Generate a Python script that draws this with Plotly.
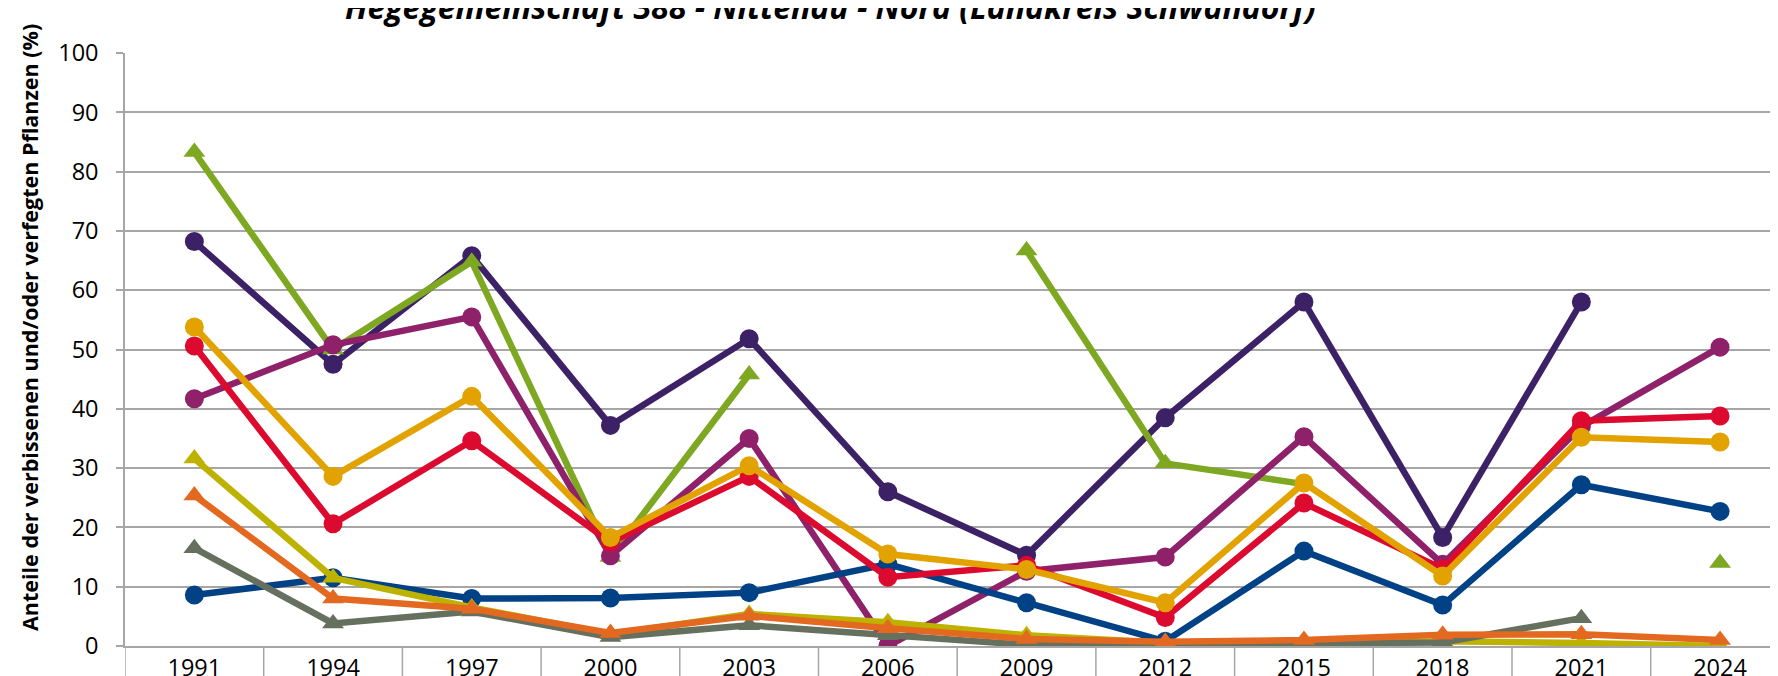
import plotly.graph_objects as go

years = ['1991', '1994', '1997', '2000', '2003', '2006', '2009', '2012', '2015', '2018', '2021', '2024']

s_purple = [68.2, 47.5, 65.8, 37.2, 51.8, 26.0, 15.3, 38.5, 58.0, 18.3, 58.0, None]
s_green = [83.3, 50.0, 64.8, 15.0, 45.8, None, 66.7, 30.8, 27.3, None, None, 14.0]
s_magenta = [41.7, 50.8, 55.5, 15.2, 35.0, 0.0, 12.6, 15.0, 35.3, 13.8, 37.0, 50.4]
s_navy = [8.6, 11.5, 8.0, 8.1, 9.0, 13.8, 7.3, 0.8, 16.0, 6.9, 27.2, 22.7]
s_red = [50.6, 20.6, 34.6, 17.5, 28.6, 11.6, 13.6, 4.8, 24.1, 13.0, 38.0, 38.8]
s_gold = [53.8, 28.6, 42.1, 18.3, 30.4, 15.5, 12.9, 7.3, 27.5, 11.8, 35.2, 34.4]
s_olive = [31.6, 11.5, 6.5, 2.0, 5.4, 4.0, 1.8, 0.5, 0.2, 0.8, 0.5, 0.0]
s_gray = [16.5, 3.8, 5.8, 1.5, 3.5, 1.8, 0.2, 0.3, 0.4, 0.6, 4.7, None]
s_orange = [25.4, 8.0, 6.3, 2.2, 5.1, 3.0, 1.2, 0.7, 1.0, 1.9, 2.0, 1.0]

title_text = "Hegegemeinschaft 388 - Nittenau - Nord (Landkreis Schwandorf)"
ytitle_text = "Anteile der verbissenen und/oder verfegten Pflanzen (%)"

series = [
    ("Reihe 1", s_purple, "#3C2167", "circle"),
    ("Reihe 2", s_green, "#7EA722", "triangle-up"),
    ("Reihe 3", s_magenta, "#8E2169", "circle"),
    ("Reihe 4", s_navy, "#014185", "circle"),
    ("Reihe 5", s_red, "#DC0A2E", "circle"),
    ("Reihe 6", s_gold, "#E2A300", "circle"),
    ("Reihe 7", s_olive, "#BEB200", "triangle-up"),
    ("Reihe 8", s_gray, "#66705E", "triangle-up"),
    ("Reihe 9", s_orange, "#E36920", "triangle-up"),
]

FONT = "Open Sans"
GRID = "#A6A6A6"

fig = go.Figure()
for name, vals, color, sym in series:
    fig.add_trace(go.Scatter(
        x=years, y=vals, name=name, mode="lines+markers",
        line=dict(color=color, width=6.5),
        marker=dict(symbol=sym, size=19, color=color),
        connectgaps=False,
    ))

# page body has an 8px margin, so figure coordinates are offset by 8px
OFF = 8
PLOT_LEFT = 125 - OFF
PLOT_TOP, PLOT_H = 53 - OFF, 593
PLOT_BOTTOM = PLOT_TOP + PLOT_H
CAT_W = 138.7
x_lo = -0.5
x_hi = x_lo + (1778 - PLOT_LEFT) / CAT_W
PLOT_W = 1778 - PLOT_LEFT


def py(page_y):
    return (PLOT_BOTTOM - (page_y - OFF)) / PLOT_H


def px(page_x):
    return ((page_x - OFF) - PLOT_LEFT) / PLOT_W


shapes = []
for i in range(len(years) + 1):
    shapes.append(dict(type="line", xref="x", yref="paper",
                       x0=i - 0.5, x1=i - 0.5, y0=0, y1=-0.12,
                       line=dict(color=GRID, width=1.5), layer="below"))

fig.update_layout(
    width=1778, height=676,
    margin=dict(l=PLOT_LEFT, r=0, t=PLOT_TOP, b=676 - PLOT_BOTTOM, autoexpand=False),
    paper_bgcolor="white", plot_bgcolor="white",
    showlegend=False,
    font=dict(family=FONT, color="black"),
    shapes=shapes,
    xaxis=dict(type="category", range=[x_lo, x_hi], showgrid=False, zeroline=False,
               automargin=False,
               showline=True, linecolor=GRID, linewidth=1.5,
               ticks="", tickfont=dict(size=23.5, family=FONT, color="black")),
    yaxis=dict(range=[0, 100], dtick=10, showgrid=True, gridcolor=GRID, gridwidth=1.5,
               automargin=False,
               zeroline=False, showline=True, linecolor=GRID, linewidth=1.5,
               ticks="outside", ticklen=7, tickcolor=GRID, tickwidth=1.5,
               ticklabelstandoff=13,
               tickfont=dict(size=23.5, family=FONT, color="black")),
    annotations=[
        dict(text="<b><i>" + title_text + "</i></b>", xref="paper", yref="paper",
             x=px(830), y=py(30),
             xanchor="center", yanchor="bottom",
             showarrow=False, font=dict(size=32, family=FONT, color="black")),
        dict(text="<b>" + ytitle_text + "</b>", xref="paper", yref="paper",
             x=px(29), y=py(328),
             xanchor="center", yanchor="middle",
             textangle=-90, showarrow=False, font=dict(size=21.5, family=FONT, color="black")),
    ],
)

fig.write_html("out.html")
